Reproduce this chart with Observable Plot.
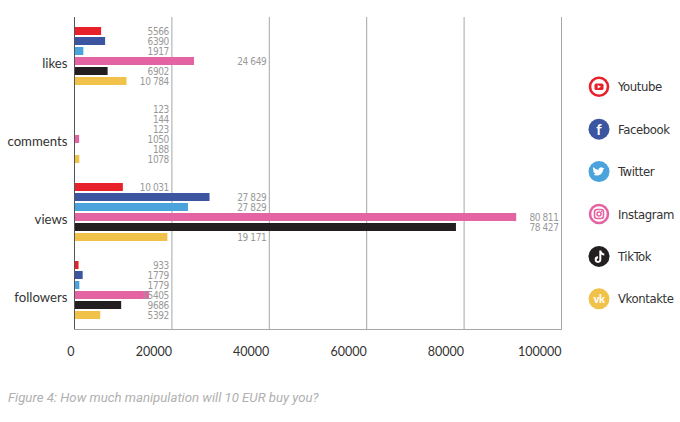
<!DOCTYPE html>
<html><head><meta charset="utf-8">
<script src="https://cdn.jsdelivr.net/npm/d3@7"></script>
<script src="https://cdn.jsdelivr.net/npm/@observablehq/plot@0.6"></script>
<style>
body{margin:0;background:#fff;}
#wrap{position:relative;width:680px;height:422px;overflow:hidden;background:#fff;}
#chart{position:absolute;left:0;top:0;}
#legend{position:absolute;left:586px;top:0;}
#caption{position:absolute;left:8px;top:390px;font-family:Roboto,sans-serif;font-style:italic;font-weight:400;font-size:13.2px;color:#b0b0b0;white-space:nowrap;}
.narrow{font-family:"DejaVu Sans Condensed","DejaVu Sans",sans-serif;font-stretch:condensed;}
</style></head><body>
<div id="wrap"><div id="chart"></div><div id="legend"></div><div id="caption">Figure 4: How much manipulation will 10 EUR buy you?</div></div>
<script>
const categories = ["likes", "comments", "views", "followers"];
const platforms = ["Youtube", "Facebook", "Twitter", "Instagram", "TikTok", "Vkontakte"];
const colors = ["#e8202a", "#3b55a0", "#4aa3dd", "#e463a3", "#231f20", "#f0c24a"];

// bar lengths as drawn
const likes = [5566, 6390, 1917, 24649, 6902, 10784];
const comments = [123, 144, 123, 1050, 188, 1078];
const views = [10031, 27829, 23400, 90800, 78427, 19171];
const followers = [933, 1779, 1100, 15405, 9686, 5392];

// printed value labels
const likesText = ["5566", "6390", "1917", "24 649", "6902", "10 784"];
const commentsText = ["123", "144", "123", "1050", "188", "1078"];
const viewsText = ["10 031", "27 829", "27 829", "80 811", "78 427", "19 171"];
const followersText = ["933", "1779", "1779", "15405", "9686", "5392"];

const xTicks = [0, 20000, 40000, 60000, 80000, 100000];

const series = {
  likes: [likes, likesText],
  comments: [comments, commentsText],
  views: [views, viewsText],
  followers: [followers, followersText]
};
const rows = [];
categories.forEach(c => {
  const [v, t] = series[c];
  platforms.forEach((p, i) => rows.push({category: c, platform: p, value: v[i], label: t[i]}));
});
const step = 20000, minGap = 4000;
rows.forEach(r => r.labelAt = Math.ceil((r.value + minGap) / step) * step);

const chart = Plot.plot({
  width: 680, height: 372,
  marginLeft: 74, marginRight: 119, marginTop: 17, marginBottom: 43,
  x: {domain: [0, 100000]},
  y: {domain: platforms, paddingInner: 0.18, paddingOuter: 0.845, axis: null},
  fy: {domain: categories, padding: 0, label: null},
  color: {domain: platforms, range: colors},
  style: {fontFamily: "Lato, sans-serif", background: "#fff"},
  marks: [
    Plot.ruleX(xTicks.slice(1), {stroke: "#a6a6a6", strokeWidth: 1, strokeOpacity: 1}),
    Plot.barX(rows, {x: "value", y: "platform", fy: "category", fill: "platform"}),
    Plot.text(rows, {x: "labelAt", y: "platform", fy: "category", text: "label", textAnchor: "end", dx: -3, fill: "#999", fontSize: 10, className: "narrow"}),
    Plot.ruleX([0], {stroke: "#555", strokeOpacity: 1}),
    Plot.frame({anchor: "bottom", facetAnchor: "bottom", stroke: "#a6a6a6"}),
    Plot.axisX({ticks: xTicks, tickSize: 0, tickPadding: 18, textAnchor: "end", tickFormat: d => String(d), fontSize: 12.5, color: "#333", label: null}),
    Plot.axisFy({anchor: "left", tickSize: 0, tickPadding: 7, fontSize: 13.2, dy: 7, label: null, color: "#333"})
  ]
});
document.getElementById("chart").appendChild(chart);
chart.querySelectorAll(".narrow text, text.narrow").forEach(t => t.setAttribute("letter-spacing", "-0.4"));

// legend
const icons = {
  Youtube: `<circle r="9" fill="#fff" stroke="#e8202a" stroke-width="2.6"/><rect x="-4.5" y="-3.2" width="9" height="6.4" rx="1.6" fill="#e8202a"/><path d="M-1.3,-1.8L2,0L-1.3,1.8Z" fill="#fff"/>`,
  Facebook: `<circle r="10.5" fill="#3b55a0"/><text y="5.5" text-anchor="middle" fill="#fff" font-family="Lato, sans-serif" font-weight="bold" font-size="15">f</text>`,
  Twitter: `<circle r="10.5" fill="#4aa3dd"/><path d="M-5.5,3.2C-2,5 3.5,3.5 4.2,-2.2L5.6,-3.6L4.1,-3.3C3,-5.3 -0.3,-4.6 -0.4,-1.8C-2.8,-1.9 -4.6,-3.2 -5.8,-4.6C-6.5,-2.7 -5.6,-1.2 -4.6,-0.6C-5.1,-0.6 -5.5,-0.8 -5.9,-1C-5.7,0.8 -4.6,1.6 -3.5,2C-4.1,2.6 -4.9,3 -5.5,3.2Z" fill="#fff"/>`,
  Instagram: `<circle r="9" fill="#fff" stroke="#e463a3" stroke-width="2.6"/><rect x="-4.5" y="-4.5" width="9" height="9" rx="2.5" fill="none" stroke="#e463a3" stroke-width="1.6"/><circle r="2" fill="none" stroke="#e463a3" stroke-width="1.5"/><circle cx="2.6" cy="-2.6" r="0.7" fill="#e463a3"/>`,
  TikTok: `<circle r="10.5" fill="#231f20"/><path d="M0.3,-6h2c0.3,1.8 1.5,2.8 3,3v2c-1.1,0 -2.1,-0.4 -3,-1v5.2a3.3,3.3 0 1 1 -3.3,-3.3v2.1a1.3,1.3 0 1 0 1.3,1.3Z" fill="#fff"/>`,
  Vkontakte: `<circle r="10.5" fill="#f0c24a"/><text y="3.8" text-anchor="middle" fill="#fff" font-family="Lato, sans-serif" font-weight="900" font-size="11" letter-spacing="-0.5">vk</text>`
};
const legendY0 = 86.8, legendStep = 42.4;
let svg = `<svg width="94" height="422" xmlns="http://www.w3.org/2000/svg">`;
platforms.forEach((p, i) => {
  const cy = legendY0 + i * legendStep;
  svg += `<g transform="translate(13,${cy})">${icons[p]}</g>`;
  svg += `<text class="narrow" x="32" y="${cy}" dy="0.36em" fill="#333" font-size="13" letter-spacing="-0.4">${p}</text>`;
});
svg += `</svg>`;
document.getElementById("legend").innerHTML = svg;
</script>
</body></html>
